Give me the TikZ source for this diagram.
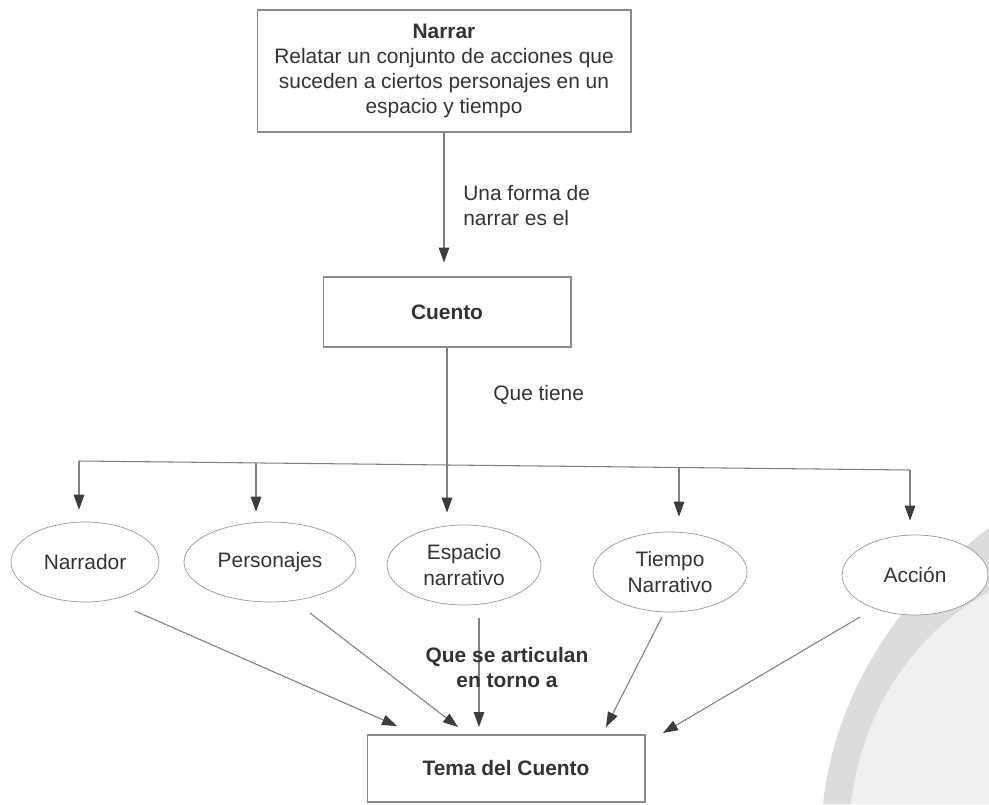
\documentclass[tikz,border=0pt]{standalone}
\usepackage{fontspec}
\setmainfont{Liberation Sans}
\usetikzlibrary{arrows.meta,shapes.geometric}
\definecolor{txt}{HTML}{333333}
\definecolor{boxc}{HTML}{8A8A8A}
\definecolor{linec}{HTML}{808080}
\definecolor{tipc}{HTML}{3C3C3C}
\definecolor{ellc}{HTML}{9A9A9A}
\definecolor{swA}{HTML}{DCDCDC}
\definecolor{swB}{HTML}{F0F0F3}
\tikzset{
  base/.style={text=txt,font=\fontsize{11.9}{14.4}\selectfont},
  rectbox/.style={base,draw=boxc,line width=0.6pt,fill=white,inner sep=0pt,align=center},
  ellbox/.style={base,ellipse,draw=ellc,line width=0.4pt,fill=white,inner sep=0pt,align=center,minimum height=1.6cm},
  lbl/.style={base,inner sep=0pt,align=left},
  conn/.style={draw=linec,line width=0.6pt},
  arr/.style={conn,-{Triangle[length=8.5pt,width=6pt,color=tipc]}}
}
\begin{document}
\begin{tikzpicture}[x=0.02cm,y=-0.02cm]
\useasboundingbox (0,0) rectangle (989,804);
% background swoosh
\fill[swA] (989,528) .. controls (905,590) and (835,690) .. (823,804) -- (989,804) -- cycle;
\fill[swB] (989,592) .. controls (915,632) and (862,710) .. (851,804) -- (989,804) -- cycle;

% boxes
\node[rectbox,minimum width=7.48cm,minimum height=2.44cm] (narrar) at (444,71)
  {\textbf{Narrar}\\Relatar un conjunto de acciones que\\suceden a ciertos personajes en un\\espacio y tiempo};
\node[rectbox,minimum width=4.96cm,minimum height=1.4cm] (cuento) at (447,312) {\textbf{Cuento}};
\node[rectbox,minimum width=5.56cm,minimum height=1.34cm] (tema) at (506,768.5) {\textbf{Tema del Cuento}};

% ellipses
\node[ellbox,minimum width=2.96cm] (narrador) at (85,562) {Narrador};
\node[ellbox,minimum width=3.44cm] (personajes) at (270,562) {Personajes};
\node[ellbox,minimum width=3.08cm] (espacio) at (464,565) {Espacio\\narrativo};
\node[ellbox,minimum width=3.08cm] (tiempo) at (670,572) {Tiempo\\Narrativo};
\node[ellbox,minimum width=2.92cm] (accion) at (915,575) {Acción};

% labels
\node[lbl,anchor=west] (l1) at (463,205.5) {Una forma de\\narrar es el};
\node[lbl,anchor=west] (l2) at (493,395) {Que tiene};

% Narrar -> Cuento
\draw[arr,shorten >=0.28cm] (narrar.south) -- (narrar.south |- cuento.north);

% bar
\coordinate (barL) at (79,461);
\coordinate (barR) at (910,470);
\coordinate (dP) at (256,463);
\coordinate (dE) at (447,465);
\coordinate (dT) at (679,467.5);
\draw[conn] (barL) -- (barR);
\draw[arr,shorten >=0.24cm] (cuento.south) -- (cuento.south |- espacio.north);
\draw[arr,shorten >=0.24cm] (barL) -- (barL |- narrador.north);
\draw[arr,shorten >=0.2cm] (dP) -- (dP |- personajes.north);
\draw[arr,shorten >=0.3cm] (dT) -- (dT |- tiempo.north);
\draw[arr,shorten >=0.28cm] (barR) -- (barR |- accion.north);

% converging arrows
\draw[arr] ([shift={(50,49)}]narrador.center) -- ([shift={(-109,-42.5)}]tema.center);
\draw[arr] ([shift={(40,51)}]personajes.center) -- ([shift={(-48,-41.5)}]tema.center);
\draw[arr] ([shift={(15,53)}]espacio.center) -- ([shift={(-27,-41.5)}]tema.center);
\draw[arr] ([shift={(-8,45)}]tiempo.center) -- ([shift={(100,-41.5)}]tema.center);
\draw[arr] ([shift={(-55,42)}]accion.center) -- ([shift={(157,-35.5)}]tema.center);

\node[base,inner sep=0pt,align=center,font=\fontsize{11.9}{14.2}\selectfont\bfseries] (l3) at (507,667.5) {Que se articulan\\en torno a};
\end{tikzpicture}
\end{document}
